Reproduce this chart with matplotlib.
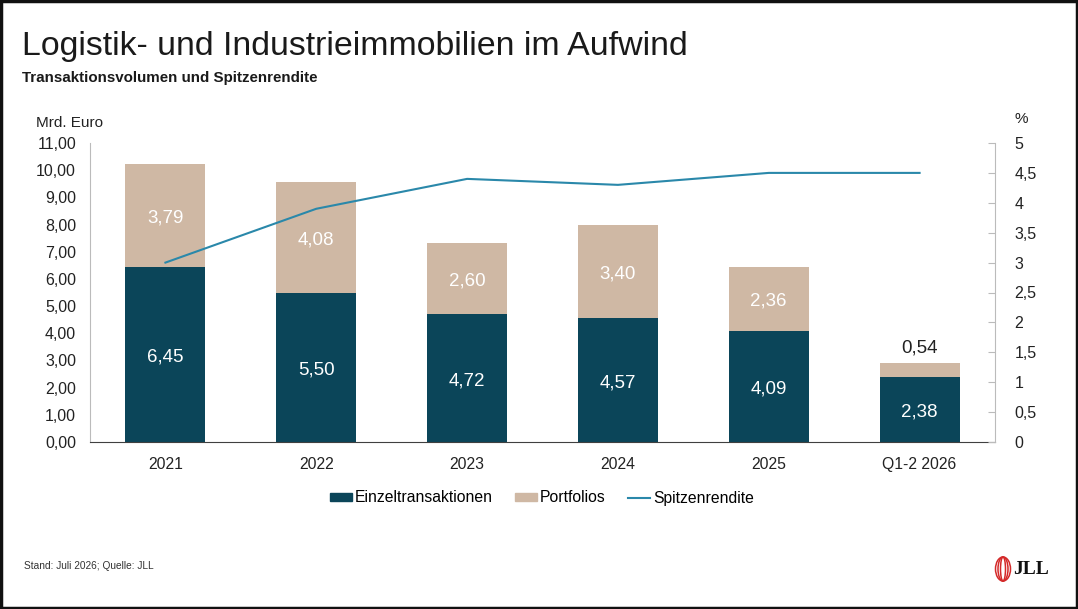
import matplotlib.pyplot as plt
from matplotlib.patches import Rectangle, Ellipse
from matplotlib.lines import Line2D
from matplotlib.ticker import MultipleLocator, FuncFormatter

plt.rcParams['font.family'] = ['Liberation Sans', 'DejaVu Sans']

# data
years = ["2021", "2022", "2023", "2024", "2025", "Q1-2 2026"]
einzel = [6.45, 5.50, 4.72, 4.57, 4.09, 2.38]
portfolios = [3.79, 4.08, 2.60, 3.40, 2.36, 0.54]
rendite = [3.0, 3.9, 4.4, 4.3, 4.5, 4.5]

c_dark = "#0b4559"
c_beige = "#cfb8a4"
c_line = "#2a88aa"

fig = plt.figure(figsize=(10.78, 6.09), dpi=100)
ax = fig.add_axes([90 / 1078, 1 - 442 / 609, 905 / 1078, 299 / 609])
ax2 = ax.twinx()

x = range(len(years))
w = 0.53
ax.bar(x, einzel, width=w, color=c_dark, zorder=2)
ax.bar(x, portfolios, width=w, bottom=einzel, color=c_beige, zorder=2)

for i in x:
    ax.text(i, einzel[i] / 2 - 0.1, f"{einzel[i]:.2f}".replace(".", ","), ha="center", va="center",
            color="white", fontsize=13.5)
    if portfolios[i] > 1:
        ax.text(i, einzel[i] + portfolios[i] / 2 - 0.1, f"{portfolios[i]:.2f}".replace(".", ","),
                ha="center", va="center", color="white", fontsize=13.5)
    else:
        ax.text(i, einzel[i] + portfolios[i] + 0.55, f"{portfolios[i]:.2f}".replace(".", ","),
                ha="center", va="center", color="#222222", fontsize=13.5)

ax2.plot(x, rendite, color=c_line, lw=1.5, zorder=3)

ax.set_xlim(-0.5, 5.5)
ax.set_ylim(0, 11)
ax2.set_ylim(0, 5)
ax.yaxis.set_major_locator(MultipleLocator(1))
ax.yaxis.set_major_formatter(FuncFormatter(lambda v, p: f"{v:.2f}".replace(".", ",")))
ax2.yaxis.set_major_locator(MultipleLocator(0.5))
ax2.yaxis.set_major_formatter(FuncFormatter(lambda v, p: f"{v:g}".replace(".", ",")))

ax.set_xticks(list(x))
ax.set_xticklabels(years)
ax.tick_params(axis="x", length=0, labelsize=11.3, pad=11, colors="#222222")
ax.tick_params(axis="y", length=0, labelsize=11.5, pad=10, colors="#222222")
ax2.tick_params(axis="y", direction="in", length=5, labelsize=11.5, pad=14, colors="#222222")
ax2.tick_params(axis="y", color="#bbbbbb")

for a in (ax, ax2):
    a.spines["top"].set_visible(False)
ax.spines["left"].set_color("#bbbbbb")
ax.spines["right"].set_visible(False)
ax2.spines["left"].set_visible(False)
ax2.spines["bottom"].set_visible(False)
ax2.spines["right"].set_color("#bbbbbb")
ax.spines["bottom"].set_color("#404040")

# titles and notes
fig.text(22 / 1078, 1 - 47 / 609, "Logistik- und Industrieimmobilien im Aufwind", fontsize=24.4,
         color="#1a1a1a", va="center")
fig.text(22 / 1078, 1 - 78 / 609, "Transaktionsvolumen und Spitzenrendite", fontsize=10.9,
         fontweight="bold", color="#1a1a1a", va="center")
fig.text(36 / 1078, 1 - 123 / 609, "Mrd. Euro", fontsize=11, color="#222222", va="center")
fig.text(1021 / 1078, 1 - 119 / 609, "%", fontsize=11, color="#222222", va="center", ha="center")
fig.text(24 / 1078, 1 - 566 / 609, "Stand: Juli 2026; Quelle: JLL", fontsize=7.3,
         color="#333333", va="center")

# legend
handles = [Rectangle((0, 0), 1, 1, color=c_dark), Rectangle((0, 0), 1, 1, color=c_beige),
           Line2D([], [], color=c_line, lw=1.5)]
fig.legend(handles, ["Einzeltransaktionen", "Portfolios", "Spitzenrendite"], loc="center",
           bbox_to_anchor=(542 / 1078, 1 - 498 / 609), ncol=3, frameon=False, fontsize=11.3,
           handlelength=1.4, handleheight=0.45, handletextpad=0.2, columnspacing=1.4)

# logo
for wdt in [15, 10, 5]:
    fig.patches.append(Ellipse((1003 / 1078, 1 - 569 / 609), wdt / 1078, 24 / 609,
                               transform=fig.transFigure, fill=False, edgecolor="#d42a2a", lw=1.1))
fig.text(1013 / 1078, 1 - 570 / 609, "JLL", fontsize=14, fontweight="bold",
         family="Liberation Serif", va="center", color="#111111")

# frame
fig.patches.append(Rectangle((0.001, 0.002), 0.998, 0.996, transform=fig.transFigure,
                             fill=False, edgecolor="#111111", lw=2.5))

fig.savefig("out.png", dpi=100)
